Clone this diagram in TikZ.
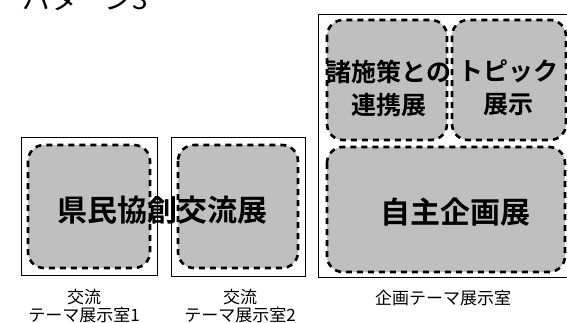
\documentclass[tikz,border=0pt]{standalone}
\usepackage{fontspec}
\newfontfamily\jp{Noto Sans CJK JP}
\newfontfamily\jpb{Noto Sans CJK JP Bold}
\begin{document}
\begin{tikzpicture}[x=1pt,y=-1pt,
  room/.style={draw=black,line width=0.8pt},
  zone/.style={draw=black,line width=2.6pt,dash pattern=on 6pt off 5pt,rounded corners=16pt,fill=gray!50},
  bigtxt/.style={font=\jpb\fontsize{30}{32}\selectfont,inner sep=0pt},
  midtxt/.style={font=\jpb\fontsize{25}{33}\selectfont,align=center,inner sep=0pt},
  lbl/.style={font=\jp\fontsize{17}{18}\selectfont,align=center,inner sep=0pt}]
\useasboundingbox (0,0) rectangle (567,322);
% outer rooms
\draw[room] (21,137) rectangle (157,275);
\draw[room] (171,137) rectangle (305,276);
\draw[room] (318,14) rectangle (570,277);
% zones
\draw[zone] (28,145) rectangle (150,268);
\draw[zone] (178,145) rectangle (298,268);
\draw[zone] (327,20) rectangle (447,140);
\draw[zone] (452,20) rectangle (566,140);
\draw[zone] (327,147) rectangle (565,272);
% texts
\node[bigtxt] (kenmin) at (162,210) {県民協創交流展};
\node[bigtxt] (jishu) at (455,212) {自主企画展};
\node[midtxt] (shoseki) at (389,88) {諸施策との\\連携展};
\node[midtxt] (topic) at (508,88) {トピック\\展示};
% labels
\node[lbl] (l1) at (84,306) {交流\\テーマ展示室1};
\node[lbl] (l2) at (240,306) {交流\\テーマ展示室2};
\node[lbl,anchor=center] (l3) at (443,298) {企画テーマ展示室};
% title
\node[font=\jp\fontsize{28}{30}\selectfont,anchor=south west,inner sep=0pt] (title) at (22,11) {パターン3};
\end{tikzpicture}
\end{document}
